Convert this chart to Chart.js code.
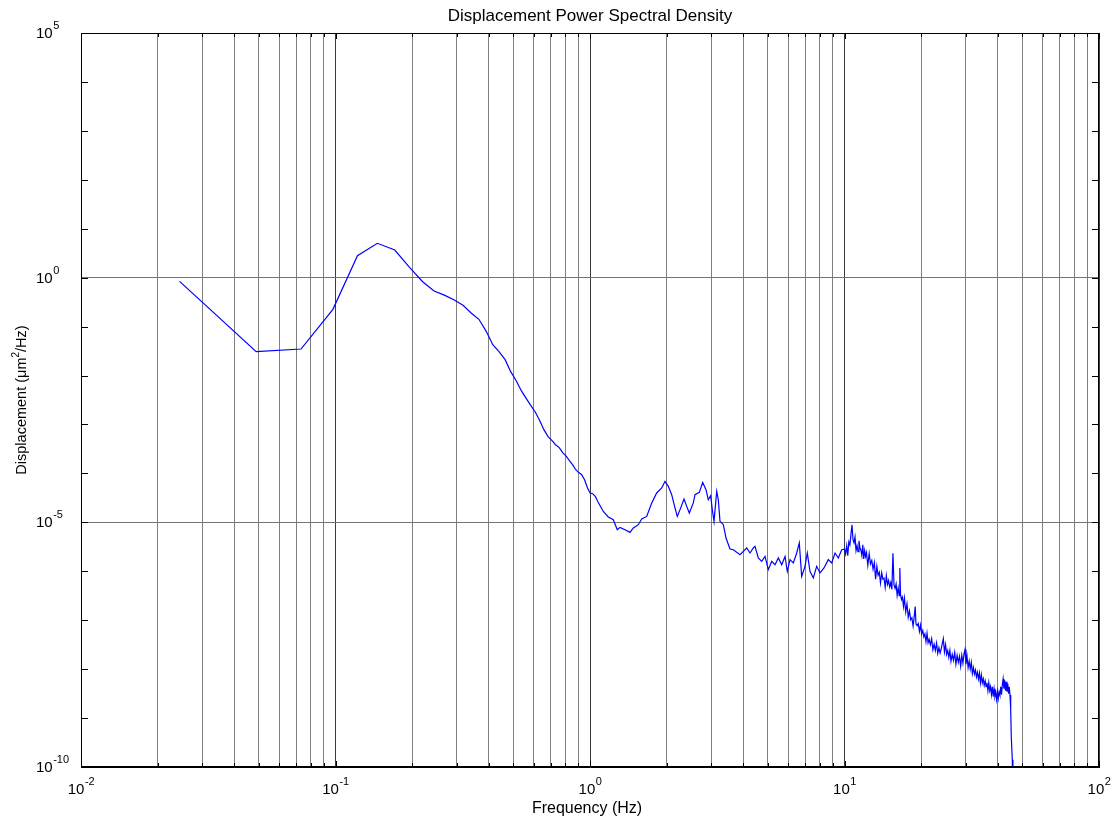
<!DOCTYPE html>
<html>
<head>
    <meta charset="UTF-8">
    <title>Displacement Power Spectral Density</title>
    <script src="https://cdn.jsdelivr.net/npm/chart.js"></script>
    <style>
        body { margin: 0; background: #fff; }
        canvas { display: block; }
    </style>
</head>
<body>
    <canvas id="chart" width="1114" height="820"></canvas>

    <script>
        // PSD estimate, low band (0.0244 Hz bins)
        var freqLow = [0.0244, 0.0488, 0.0732, 0.0977, 0.122, 0.146, 0.171, 0.195, 0.220, 0.244,
                       0.269, 0.293, 0.317, 0.342, 0.366, 0.391, 0.415, 0.439, 0.464, 0.488,
                       0.513, 0.537, 0.562, 0.586, 0.610, 0.635, 0.659, 0.684, 0.708, 0.732,
                       0.757, 0.781, 0.806, 0.830, 0.854, 0.879, 0.903, 0.928, 0.952, 0.977,
                       1.001, 1.025, 1.050, 1.074];
        var psdLow = [0.84, 0.0307, 0.0348, 0.225, 2.81, 5.04, 3.67, 1.64, 0.826, 0.533,
                      0.435, 0.349, 0.272, 0.187, 0.141, 0.080, 0.0427, 0.0308, 0.0211, 0.0120,
                      7.85e-3, 4.91e-3, 3.37e-3, 2.42e-3, 1.78e-3, 1.19e-3, 7.83e-4, 5.63e-4, 4.73e-4, 3.86e-4,
                      3.36e-4, 2.65e-4, 2.25e-4, 1.82e-4, 1.51e-4, 1.19e-4, 1.04e-4, 9.42e-5, 7.44e-5, 5.11e-5,
                      3.98e-5, 3.85e-5, 3.34e-5, 2.64e-5];

        // 1 - 10 Hz
        var freqMid = [1.128, 1.180, 1.235, 1.280, 1.312, 1.373, 1.436, 1.480, 1.548, 1.597,
                       1.670, 1.748, 1.828, 1.913, 1.971, 2.031, 2.094, 2.158, 2.203, 2.258,
                       2.341, 2.399, 2.456, 2.546, 2.586, 2.689, 2.772, 2.856, 2.916, 2.980,
                       3.024, 3.071, 3.147, 3.193, 3.242, 3.341, 3.423, 3.549, 3.658, 3.886,
                       4.003, 4.128, 4.254, 4.383, 4.449, 4.585, 4.728, 4.872, 5.019, 5.176,
                       5.333, 5.495, 5.666, 5.838, 5.960, 6.107, 6.292, 6.489, 6.643, 6.789,
                       6.995, 7.142, 7.318, 7.540, 7.776, 8.012, 8.307, 8.637, 8.907, 9.178,
                       9.455, 9.750];
        var psdMid = [1.67e-5, 1.29e-5, 1.13e-5, 7.08e-6, 7.89e-6, 7.08e-6, 6.24e-6, 7.67e-6, 8.95e-6, 1.17e-5,
                      1.32e-5, 2.49e-5, 3.98e-5, 5.04e-5, 6.87e-5, 5.43e-5, 3.67e-5, 1.96e-5, 1.32e-5, 1.82e-5,
                      3.00e-5, 2.12e-5, 1.55e-5, 2.49e-5, 3.67e-5, 4.09e-5, 6.55e-5, 4.65e-5, 2.90e-5, 3.51e-5,
                      1.82e-5, 1.05e-5, 4.30e-5, 2.90e-5, 1.05e-5, 8.95e-6, 4.79e-6, 2.85e-6, 2.76e-6, 2.18e-6,
                      2.55e-6, 2.99e-6, 2.36e-6, 2.99e-6, 3.22e-6, 1.87e-6, 1.59e-6, 2.01e-6, 1.08e-6, 1.59e-6,
                      1.36e-6, 1.87e-6, 1.36e-6, 2.01e-6, 9.95e-7, 1.73e-6, 1.48e-6, 2.36e-6, 3.79e-6, 7.85e-7,
                      1.26e-6, 2.36e-6, 9.95e-7, 7.30e-7, 1.26e-6, 9.22e-7, 1.17e-6, 1.73e-6, 1.48e-6, 2.36e-6,
                      1.87e-6, 2.76e-6];

        // 10 Hz up to the anti-alias roll-off
        var freqHigh = [10.0, 10.1, 10.2, 10.3, 10.4, 10.5, 10.6, 10.7, 10.8, 10.9,
                        11.0, 11.1, 11.2, 11.3, 11.4, 11.5, 11.6, 11.7, 11.8, 11.9,
                        12.0, 12.1, 12.2, 12.35, 12.5, 12.65, 12.8, 12.95, 13.1, 13.25,
                        13.4, 13.55, 13.7, 13.85, 14.0, 14.15, 14.3, 14.45, 14.6, 14.75,
                        14.9, 15.05, 15.2, 15.35, 15.5, 15.65, 15.8, 15.95, 16.1, 16.25,
                        16.4, 16.5, 16.6, 16.75, 16.9, 17.05, 17.2, 17.4, 17.6, 17.8,
                        18.0, 18.2, 18.4, 18.6, 18.8, 18.95, 19.1, 19.3, 19.5, 19.7,
                        19.9, 20.1, 20.3, 20.5, 20.7, 20.9, 21.1, 21.3, 21.5, 21.75,
                        22.0, 22.25, 22.5, 22.75, 23.0, 23.25, 23.5, 23.75, 24.0, 24.25,
                        24.45, 24.7, 24.95, 25.2, 25.45, 25.7, 25.95, 26.2, 26.5, 26.8,
                        27.1, 27.4, 27.7, 28.0, 28.3, 28.6, 28.9, 29.2, 29.5, 29.75,
                        30.0, 30.3, 30.6, 30.9, 31.2, 31.5, 31.8, 32.1, 32.4, 32.7,
                        33.0, 33.3, 33.6, 33.9, 34.2, 34.5, 34.8, 35.1, 35.4, 35.7,
                        36.0, 36.3, 36.6, 36.9, 37.2, 37.5, 37.8, 38.1, 38.4, 38.7,
                        39.0, 39.3, 39.6, 39.9, 40.2, 40.5, 40.8, 41.1, 41.4, 41.7,
                        42.0, 42.3, 42.6, 42.9, 43.2, 43.5, 43.8, 44.1, 44.4, 44.7,
                        44.98, 45.22, 45.63, 45.9];
        var psdHigh = [2.82e-6, 2.24e-6, 3.31e-6, 2.09e-6, 3.98e-6, 3.47e-6, 5.62e-6, 8.91e-6, 4.47e-6, 3.80e-6,
                       5.01e-6, 2.63e-6, 3.31e-6, 2.51e-6, 4.17e-6, 3.02e-6, 2.69e-6, 2.09e-6, 3.47e-6, 1.78e-6,
                       2.63e-6, 2.00e-6, 2.40e-6, 1.32e-6, 2.29e-6, 1.41e-6, 1.66e-6, 1.10e-6, 1.51e-6, 6.92e-7,
                       1.26e-6, 8.32e-7, 9.55e-7, 5.75e-7, 9.33e-7, 6.92e-7, 7.24e-7, 4.68e-7, 8.13e-7, 5.37e-7,
                       6.46e-7, 4.79e-7, 5.89e-7, 4.27e-7, 2.34e-6, 5.25e-7, 4.47e-7, 5.50e-7, 3.24e-7, 4.57e-7,
                       3.16e-7, 1.17e-6, 3.39e-7, 2.63e-7, 2.95e-7, 1.91e-7, 2.82e-7, 1.48e-7, 2.14e-7, 1.15e-7,
                       1.55e-7, 1.02e-7, 1.12e-7, 7.59e-8, 1.20e-7, 1.91e-7, 8.32e-8, 7.76e-8, 8.51e-8, 5.89e-8,
                       7.94e-8, 5.25e-8, 6.17e-8, 4.57e-8, 5.25e-8, 3.63e-8, 5.37e-8, 3.47e-8, 4.07e-8, 3.16e-8,
                       4.17e-8, 2.51e-8, 3.24e-8, 2.40e-8, 3.39e-8, 2.09e-8, 2.75e-8, 2.14e-8, 2.63e-8, 3.39e-8,
                       4.17e-8, 2.24e-8, 3.16e-8, 2.00e-8, 2.40e-8, 1.74e-8, 2.40e-8, 1.45e-8, 2.00e-8, 1.51e-8,
                       2.19e-8, 1.26e-8, 1.91e-8, 1.38e-8, 1.82e-8, 1.15e-8, 1.91e-8, 1.32e-8, 2.09e-8, 2.51e-8,
                       1.26e-8, 1.82e-8, 1.07e-8, 1.45e-8, 1.00e-8, 1.38e-8, 8.13e-9, 1.07e-8, 7.94e-9, 9.55e-9,
                       6.92e-9, 8.51e-9, 6.31e-9, 8.32e-9, 5.25e-9, 7.59e-9, 5.25e-9, 6.31e-9, 4.68e-9, 5.75e-9,
                       4.37e-9, 5.25e-9, 3.63e-9, 5.25e-9, 3.63e-9, 4.37e-9, 3.02e-9, 4.37e-9, 2.75e-9, 3.98e-9,
                       2.75e-9, 3.31e-9, 2.40e-9, 3.47e-9, 2.51e-9, 3.39e-9, 2.95e-9, 4.37e-9, 3.02e-9, 4.79e-9,
                       6.31e-9, 3.98e-9, 5.89e-9, 3.63e-9, 5.50e-9, 3.47e-9, 5.01e-9, 3.16e-9, 4.37e-9, 2.95e-9,
                       1.48e-9, 4.22e-10, 1.41e-10, 2e-11];

        // axis limits and ticks
        var xRange = [1e-2, 1e2];
        var yRange = [1e-10, 1e5];
        var xGridValues = [];
        for (var d = -2; d < 2; d++) {
            for (var m = 1; m < 10; m++) xGridValues.push(m * Math.pow(10, d));
        }
        xGridValues.push(100);
        var xLabelExps = ['-2', '-1', '0', '1', '2'];
        var yLabelExps = ['-10', '-5', '0', '5'];
        var yGridValues = [1e-10, 1e-5, 1, 1e5];

        var fontFamily = '"Liberation Sans", Arial, sans-serif';

        var freq = freqLow.concat(freqMid, freqHigh);
        var psd = psdLow.concat(psdMid, psdHigh);
        var points = freq.map(function(f, i) { return {x: f, y: psd[i]}; });

        function isDecade(v) {
            var l = Math.log10(v);
            return Math.abs(l - Math.round(l)) < 1e-6;
        }

        // 10 with a raised exponent
        function drawPower(ctx, x, y, exp, centered) {
            ctx.font = '15px ' + fontFamily;
            var wb = ctx.measureText('10').width;
            ctx.font = '11px ' + fontFamily;
            var we = ctx.measureText(exp).width;
            var left = centered ? x - (wb + we) / 2 : x;
            ctx.textAlign = 'left';
            ctx.textBaseline = 'middle';
            ctx.font = '15px ' + fontFamily;
            ctx.fillText('10', left, y);
            ctx.font = '11px ' + fontFamily;
            ctx.fillText(exp, left + wb + 0.5, y - 8);
        }

        var axesDecor = {
            id: 'axesDecor',
            afterDraw: function(chart) {
                var ctx = chart.ctx;
                var area = chart.chartArea;
                var xs = chart.scales.x, ys = chart.scales.y;
                ctx.save();

                // box
                ctx.strokeStyle = '#000';
                ctx.lineWidth = 1;
                ctx.strokeRect(Math.round(area.left) + 0.5, Math.round(area.top) + 0.5,
                               Math.round(area.right - area.left) - 1, Math.round(area.bottom - area.top) - 1);

                // inward tick marks
                ctx.beginPath();
                xGridValues.forEach(function(v) {
                    var px = Math.round(xs.getPixelForValue(v)) + 0.5;
                    var len = isDecade(v) ? 6 : 4;
                    ctx.moveTo(px, area.bottom);
                    ctx.lineTo(px, area.bottom - len);
                    ctx.moveTo(px, area.top);
                    ctx.lineTo(px, area.top + len);
                });
                for (var e = -10; e <= 5; e++) {
                    var py = Math.round(ys.getPixelForValue(Math.pow(10, e))) + 0.5;
                    ctx.moveTo(area.left, py);
                    ctx.lineTo(area.left + 7, py);
                    ctx.moveTo(area.right, py);
                    ctx.lineTo(area.right - 7, py);
                }
                ctx.stroke();

                // tick labels
                ctx.fillStyle = '#000';
                xLabelExps.forEach(function(exp) {
                    var px = xs.getPixelForValue(Math.pow(10, +exp));
                    drawPower(ctx, px, area.bottom + 23, exp, true);
                });
                yLabelExps.forEach(function(exp) {
                    var py = ys.getPixelForValue(Math.pow(10, +exp));
                    drawPower(ctx, 36, py + 1, exp, false);
                });

                // title and axis labels
                var cx = (area.left + area.right) / 2;
                ctx.textAlign = 'center';
                ctx.textBaseline = 'middle';
                ctx.font = '17px ' + fontFamily;
                ctx.fillText('Displacement Power Spectral Density', cx, 16);
                ctx.font = '16px ' + fontFamily;
                ctx.fillText('Frequency (Hz)', cx - 3, 809);

                // y label with superscript 2
                ctx.save();
                ctx.translate(22, (area.top + area.bottom) / 2);
                ctx.rotate(-Math.PI / 2);
                ctx.font = '14.5px ' + fontFamily;
                var partA = 'Displacement (\u03bcm', partB = '/Hz)';
                var wa = ctx.measureText(partA).width;
                var wbb = ctx.measureText(partB).width;
                ctx.font = '10px ' + fontFamily;
                var w2 = ctx.measureText('2').width;
                var start = -(wa + w2 + wbb) / 2;
                ctx.textAlign = 'left';
                ctx.font = '14.5px ' + fontFamily;
                ctx.fillText(partA, start, 0);
                ctx.fillText(partB, start + wa + w2, 0);
                ctx.font = '10px ' + fontFamily;
                ctx.fillText('2', start + wa, -6);
                ctx.restore();

                ctx.restore();
            }
        };

        var ctx = document.getElementById('chart').getContext('2d');
        var chart = new Chart(ctx, {
            type: 'line',
            data: {
                datasets: [{
                    label: 'PSD',
                    data: points,
                    borderColor: '#0000ff',
                    borderWidth: 1.2,
                    pointRadius: 0,
                    tension: 0,
                    fill: false
                }]
            },
            options: {
                responsive: false,
                animation: false,
                devicePixelRatio: 1,
                layout: { padding: { left: 81, top: 33, right: 15, bottom: 53 } },
                plugins: {
                    legend: { display: false },
                    title: { display: false },
                    tooltip: { enabled: false }
                },
                scales: {
                    x: {
                        type: 'logarithmic',
                        min: xRange[0],
                        max: xRange[1],
                        afterBuildTicks: function(axis) {
                            axis.ticks = xGridValues.map(function(v) { return {value: v}; });
                        },
                        ticks: { display: false },
                        grid: {
                            drawTicks: false,
                            color: function(c) {
                                return c.tick && isDecade(c.tick.value) ? '#3a3a3a' : '#808080';
                            }
                        },
                        border: { display: true, color: '#000' }
                    },
                    y: {
                        type: 'logarithmic',
                        min: yRange[0],
                        max: yRange[1],
                        afterBuildTicks: function(axis) {
                            axis.ticks = yGridValues.map(function(v) { return {value: v}; });
                        },
                        ticks: { display: false },
                        grid: { drawTicks: false, color: '#737373' },
                        border: { display: true, color: '#000' }
                    }
                }
            },
            plugins: [axesDecor]
        });
    </script>
</body>
</html>
